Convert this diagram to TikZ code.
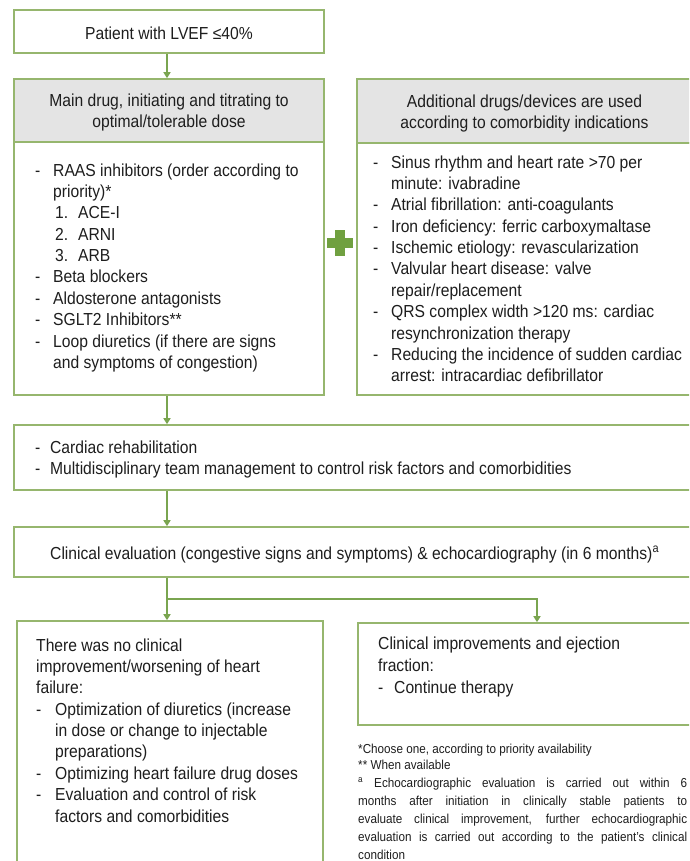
\documentclass[tikz,border=0pt]{standalone}
\usepackage{fontspec}
\setmainfont{Liberation Sans}[FakeStretch=0.9]
\usetikzlibrary{arrows.meta}
\definecolor{gborder}{RGB}{150,182,110}
\definecolor{garrow}{RGB}{122,165,80}
\definecolor{gplus}{RGB}{112,160,64}
\definecolor{hgray}{RGB}{228,228,228}
\definecolor{txt}{RGB}{30,30,30}
\newcommand\bodyfs{\fontsize{17.4pt}{21.35pt}\selectfont}
\newcommand\notefs{\fontsize{13pt}{18pt}\selectfont}
\newcommand\tstrut{\rule{0pt}{14pt}}
\newcommand\nstrut{\rule{0pt}{10pt}}
\newcommand\dsh[1]{\makebox[#1][l]{-}}
\tikzset{
 box/.style={draw=gborder, line width=1.6pt, rectangle, inner sep=0pt},
 head/.style={box, fill=hgray},
 txtnode/.style={inner sep=0pt, text=txt, font=\bodyfs, align=left, anchor=north west},
 ctxt/.style={inner sep=0pt, text=txt, font=\bodyfs, align=center, anchor=north},
 notenode/.style={inner sep=0pt, text=txt, font=\notefs, anchor=north west},
 arr/.style={draw=garrow, line width=1.6pt, -{Triangle[width=7pt,length=6pt]}},
}
\begin{document}
\begin{tikzpicture}[x=1pt,y=-1pt]
\useasboundingbox (0,0) rectangle (689,861);
\begin{scope}
\clip (0,0) rectangle (689,861);
\fill[white] (0,0) rectangle (689,861);
% boxes
\node[box, minimum width=310pt, minimum height=43pt] (top) at (169,31.5) {};
\node[head, minimum width=310pt, minimum height=63pt] (mainhead) at (169,110.5) {};
\node[box, minimum width=310pt, minimum height=253pt] (mainbody) at (169,268.5) {};
\node[head, minimum width=335pt, minimum height=64pt] (addhead) at (524.5,111) {};
\node[box, minimum width=335pt, minimum height=252pt] (addbody) at (524.5,269) {};
\node[box, minimum width=678pt, minimum height=65pt] (rehab) at (353,457.5) {};
\node[box, minimum width=678pt, minimum height=50pt] (evalbox) at (353,552) {};
\node[box, minimum width=306pt, minimum height=245pt] (worse) at (170,743.5) {};
\node[box, minimum width=334pt, minimum height=102pt] (better) at (525,674) {};
% plus sign
\fill[gplus] (335,230) rectangle (345,256);
\fill[gplus] (327,238) rectangle (353,248);
% connectors
\coordinate (ax) at (167,0);
\coordinate (bx) at (537,0);
\coordinate (split) at (167,599);
\draw[arr] (ax |- top.south) -- (ax |- mainhead.north);
\draw[arr] (ax |- mainbody.south) -- (ax |- rehab.north);
\draw[arr] (ax |- rehab.south) -- (ax |- evalbox.north);
\draw[arr] (ax |- evalbox.south) -- (ax |- worse.north);
\draw[arr] (split) -| (bx |- better.north);
% texts
\node[ctxt] (ttop) at (169,25) {\tstrut Patient with LVEF ≤40\%};
\node[ctxt] (tmainhead) at (169,92) {\tstrut Main drug, initiating and titrating to\\optimal/tolerable dose};
\node[ctxt] (taddhead) at (524.5,93) {\tstrut Additional drugs/devices are used\\according to comorbidity indications};
\node[txtnode] (tmainbody) at (35,162) {\tstrut\dsh{18pt}RAAS inhibitors (order according to\\
\hspace*{18pt}priority)*\\
\hspace*{20pt}\makebox[23pt][l]{1.}ACE-I\\
\hspace*{20pt}\makebox[23pt][l]{2.}ARNI\\
\hspace*{20pt}\makebox[23pt][l]{3.}ARB\\
\dsh{18pt}Beta blockers\\
\dsh{18pt}Aldosterone antagonists\\
\dsh{18pt}SGLT2 Inhibitors**\\
\dsh{18pt}Loop diuretics (if there are signs\\
\hspace*{18pt}and symptoms of congestion)};
\node[txtnode] (taddbody) at (373,154) {\tstrut\dsh{18pt}Sinus rhythm and heart rate >70 per\\
\hspace*{18pt}minute: ivabradine\\
\dsh{18pt}Atrial fibrillation: anti-coagulants\\
\dsh{18pt}Iron deficiency: ferric carboxymaltase\\
\dsh{18pt}Ischemic etiology: revascularization\\
\dsh{18pt}Valvular heart disease: valve\\
\hspace*{18pt}repair/replacement\\
\dsh{18pt}QRS complex width >120 ms: cardiac\\
\hspace*{18pt}resynchronization therapy\\
\dsh{18pt}Reducing the incidence of sudden cardiac\\
\hspace*{18pt}arrest: intracardiac defibrillator};
\node[txtnode] (trehab) at (35,439) {\tstrut\dsh{15pt}Cardiac rehabilitation\\
\dsh{15pt}Multidisciplinary team management to control risk factors and comorbidities};
\node[txtnode] (teval) at (50,545) {\tstrut Clinical evaluation (congestive signs and symptoms) \& echocardiography (in 6 months)\textsuperscript{a}};
\node[txtnode] (tworse) at (36,637) {\tstrut There was no clinical\\
improvement/worsening of heart\\
failure:\\
\dsh{19pt}Optimization of diuretics (increase\\
\hspace*{19pt}in dose or change to injectable\\
\hspace*{19pt}preparations)\\
\dsh{19pt}Optimizing heart failure drug doses\\
\dsh{19pt}Evaluation and control of risk\\
\hspace*{19pt}factors and comorbidities};
\node[txtnode, font=\fontsize{17.4pt}{22pt}\selectfont] (tbetter) at (378,635) {\tstrut Clinical improvements and ejection\\
fraction:\\
\dsh{16pt}Continue therapy};
% footnotes
\node[notenode] (fn1) at (358,743) {\nstrut *Choose one, according to priority availability};
\node[notenode] (fn2) at (358,759) {\nstrut ** When available};
\node[notenode, text width=329pt, align=justify] (fn3) at (358,777) {\nstrut\textsuperscript{a} Echocardiographic evaluation is carried out within 6\linebreak
months after initiation in clinically stable patients to\linebreak
evaluate clinical improvement, further echocardiographic\linebreak
evaluation is carried out according to the patient's clinical\linebreak
condition};
\end{scope}
\end{tikzpicture}
\end{document}
